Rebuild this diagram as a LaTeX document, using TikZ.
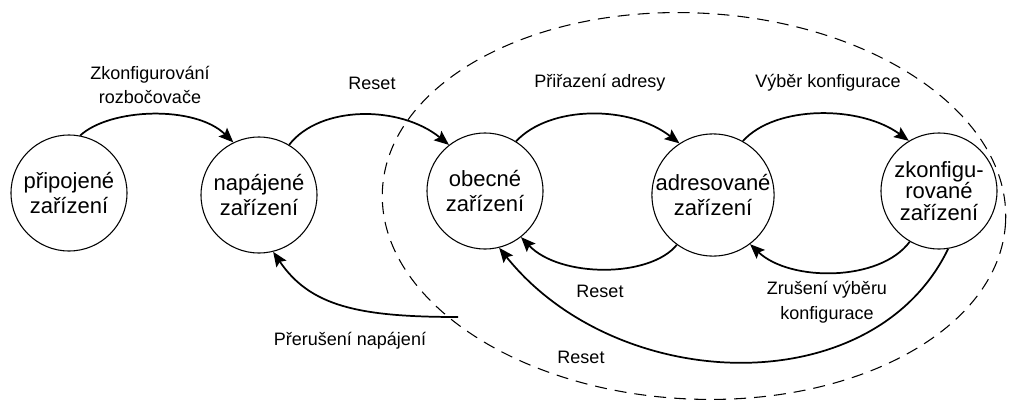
\documentclass[tikz,border=0pt]{standalone}
\usepackage{fontspec}
\setmainfont{Liberation Sans}
\usetikzlibrary{arrows.meta}
\begin{document}
\begin{tikzpicture}[x=0.75pt,y=-0.75pt,
  state/.style={draw,circle,line width=0.8pt,minimum size=87pt,inner sep=0pt,align=center,
    font=\fontsize{16.5}{19}\selectfont},
  trans/.style={line width=1.3pt,-{Stealth[length=11pt,width=9pt,inset=2pt]}},
  lbl/.style={align=center,font=\fontsize{13.5}{18.5}\selectfont,inner sep=0pt},
  region/.style={dashed,line width=0.8pt,dash pattern=on 9pt off 6pt}]
\useasboundingbox (0,0) rectangle (1011,400);

% dashed boundary around the addressable states
\draw[region,rotate around={-3:(694,206)}] (694,206) ellipse [x radius=312,y radius=193];

% states
\node[state] (p) at (69,193) {připojené\\zařízení};
\node[state] (n) at (259,195) {napájené\\zařízení};
\node[state] (o) at (485,191) {obecné\\zařízení};
\node[state] (a) at (713,195) {adresované\\zařízení};
\node[state,font=\fontsize{16.5}{16}\selectfont] (z) at (939,191) {zkonfigu-\\rované\\zařízení};

% forward transitions
\draw[trans] (p.79) .. controls (110,108) and (195,105) .. (n.116);
\draw[trans] (n.59) .. controls (320,105) and (400,105) .. (o.128);
\draw[trans] (o.58) .. controls (550,105) and (630,105) .. (a.123);
\draw[trans] (a.61) .. controls (775,105) and (860,105) .. (z.121);

% backward transitions
\draw[trans] (a.234) .. controls (650,278) and (560,278) .. (o.-52);
\draw[trans] (z.-120) .. controls (880,282) and (790,282) .. (a.-53);
\draw[trans] (z.-81) .. controls (873,404) and (617,395) .. (o.-76);
\coordinate (off) at (458,317);
\draw[trans] (off) .. controls (358,317) and (310,306) .. (n.-76);

% labels
\node[lbl] (l1) at (150,85) {Zkonfigurování\\rozbočovače};
\node[lbl] (l2) at (372,83) {Reset};
\node[lbl] (l3) at (600,83) {Přiřazení adresy};
\node[lbl] (l4) at (828,83) {Výběr konfigurace};
\node[lbl] (l5) at (600,291) {Reset};
\node[lbl] (l6) at (827,302) {Zrušení výběru\\konfigurace};
\node[lbl] (l7) at (350,341) {Přerušení napájení};
\node[lbl] (l8) at (581,357) {Reset};
\end{tikzpicture}
\end{document}
